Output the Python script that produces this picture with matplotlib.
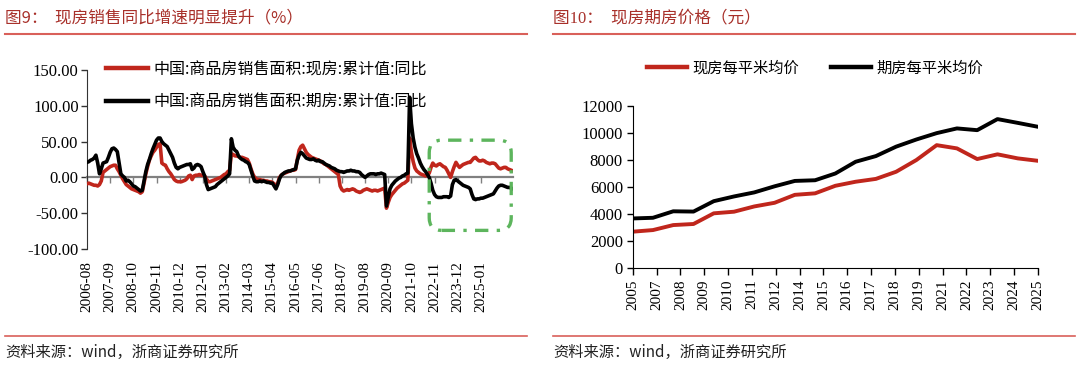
import matplotlib
matplotlib.use("Agg")
import matplotlib.pyplot as plt
import numpy as np
from matplotlib.lines import Line2D
from matplotlib.patches import FancyBboxPatch

# ---------------- data ----------------
# Left: monthly YoY (%) of commodity housing sales area (cumulative)
spot_yoy = [
    -9, -8, -9, -10, -11, -11, -12, -10, -5, 7, 9, 11,
    13, 15, 16, 17, 17, 12, 8, 3, -2, -6, -10, -12,
    -14, -16, -17, -18, -19, -20, -22, -20, -8, 5, 15, 24,
    30, 35, 38, 42, 46, 47, 20, 18, 17, 12, 8, 5,
    1, -3, -5, -6, -6, -6, -5, -4, -2, 2, 3, -3,
    2, 3, 3, 4, 3, 3, 2, -2, -6, -6, -5, -4,
    -3, -2, -1, 0, 2, 4, 5, 8, 10, 33, 32, 30,
    30, 29, 28, 28, 27, 26, 25, 20, 12, 5, 0, -2,
    -3, -3, -4, -4, -5, -5, -6, -6, -7, -9, -12, -8,
    0, 3, 5, 6, 7, 8, 9, 10, 10, 11, 25, 38,
    43, 45, 40, 35, 32, 30, 28, 27, 26, 25, 24, 23,
    21, 19, 18, 16, 14, 12, 10, 8, 6, 4, -12, -17,
    -19, -18, -17, -18, -17, -16, -17, -19, -20, -21, -20, -18,
    -17, -16, -17, -18, -19, -18, -18, -19, -18, -17, -16, -15,
    -43, -35, -28, -24, -21, -18, -15, -13, -11, -9, -8, -6,
    -4, 55, 35, 22, 13, 9, 7, 5, 4, 3, 2, 3,
    6, 14, 20, 17, 16, 18, 19, 17, 15, 14, 10, 5,
    0, 8, 15, 21, 17, 14, 16, 18, 19, 20, 21, 21,
    24, 27, 28, 25, 23, 23, 24, 23, 21, 20, 19, 20,
    20, 19, 16, 13, 12, 13, 14, 14, 12, 11, 10, 9,
]
presale_yoy = [
    21, 22, 24, 25, 27, 31, 20, 5, 12, 20, 21, 22,
    28, 35, 40, 41, 39, 36, 20, 5, 2, 0, -5, -4,
    -6, -9, -12, -13, -15, -17, -19, -18, -5, 8, 18, 25,
    33, 40, 46, 52, 55, 55, 50, 47, 45, 43, 38, 33,
    28, 20, 14, 12, 14, 15, 16, 17, 18, 18, 19, 11,
    13, 17, 18, 17, 15, 8, 2, -10, -17, -16, -15, -14,
    -13, -10, -8, -6, -4, -2, 0, 2, 5, 54, 42, 38,
    36, 30, 27, 25, 24, 22, 21, 18, 10, 2, -5, -6,
    -6, -5, -6, -5, -6, -7, -7, -8, -8, -12, -16, -10,
    -2, 3, 5, 7, 8, 9, 9, 10, 11, 12, 24, 31,
    35, 33, 30, 27, 26, 25, 25, 26, 24, 23, 24, 22,
    22, 20, 18, 17, 16, 14, 13, 12, 10, 9, 8, 8,
    7, 8, 9, 9, 10, 9, 9, 8, 8, 7, 4, 2,
    0, 2, 4, 5, 5, 5, 4, 5, 5, 6, 5, 4,
    -40, -28, -16, -11, -8, -5, -3, -1, 0, 2, 3, 5,
    6, 112, 75, 55, 42, 33, 27, 20, 15, 11, 8, 4,
    0, -8, -18, -24, -27, -28, -28, -28, -27, -27, -27, -28,
    -26, -10, -4, -3, -5, -7, -9, -11, -12, -13, -14, -16,
    -24, -30, -31, -30, -30, -29, -29, -28, -27, -26, -25, -24,
    -23, -19, -15, -12, -11, -11, -12, -13, -14, -14, -15, -16,
]
left_tick_labels = ['2006-08', '2007-09', '2008-10', '2009-11', '2010-12', '2012-01',
                    '2013-02', '2014-03', '2015-04', '2016-05', '2017-06', '2018-07',
                    '2019-08', '2020-09', '2021-10', '2022-11', '2023-12', '2025-01']
left_label_step = 13
left_series_names = ['中国:商品房销售面积:现房:累计值:同比', '中国:商品房销售面积:期房:累计值:同比']
highlight_range = (192, 238)      # months covered by the green box
highlight_values = (-74, 52)

# Right: average price per square metre (yuan)
years = list(range(2005, 2026))
spot_price = [2690, 2810, 3180, 3260, 4050, 4170, 4560, 4830, 5420, 5530, 6090,
              6390, 6600, 7130, 8000, 9100, 8860, 8070, 8420, 8120, 7940]
presale_price = [3670, 3720, 4200, 4180, 4950, 5300, 5600, 6050, 6450, 6500, 7000,
                 7870, 8290, 8990, 9520, 9990, 10340, 10210, 11030, 10750, 10460]
right_tick_labels = ['2005', '2007', '2008', '2009', '2010', '2011', '2012', '2014', '2015',
                     '2016', '2017', '2018', '2019', '2021', '2022', '2023', '2024', '2025']
right_series_names = ['现房每平米均价', '期房每平米均价']

# ---------------- style ----------------
CJK = ['Noto Sans CJK SC', 'DejaVu Sans']
SERIF = ['Liberation Serif', 'Noto Sans CJK SC']
RED = '#C0261C'
TITLE_RED = '#A8302A'
RULE_RED = '#D9605A'
GREEN = '#5DB55D'
plt.rcParams['font.family'] = CJK

W, H = 1080, 365
fig = plt.figure(figsize=(W / 100, H / 100), dpi=100)


def fx(px):
    return px / W


def fy(py):
    return 1 - py / H


# titles, rules and sources
fig.text(fx(5), fy(18), '图9：  现房销售同比增速明显提升（%）', color=TITLE_RED,
         fontsize=12, va='center', ha='left', family=CJK)
fig.text(fx(553), fy(18), '图10：  现房期房价格（元）', color=TITLE_RED,
         fontsize=12, va='center', ha='left', family=SERIF)
for x0, x1 in [(5, 527), (553, 1075)]:
    fig.add_artist(Line2D([fx(x0), fx(x1)], [fy(34), fy(34)], transform=fig.transFigure,
                          color=RULE_RED, lw=1.5))
    fig.add_artist(Line2D([fx(x0), fx(x1)], [fy(336), fy(336)], transform=fig.transFigure,
                          color=RULE_RED, lw=1.2))
for x0 in (5, 553):
    fig.text(fx(x0), fy(352), '资料来源：wind，浙商证券研究所', color='#222222',
             fontsize=11, va='center', ha='left', family=CJK)

# ---------------- left chart ----------------
ax1 = fig.add_axes([fx(87), fy(249), fx(513) - fx(87), fy(70) - fy(249)])
n = len(spot_yoy)
xm = np.arange(n)
ax1.plot(xm, spot_yoy, color=RED, lw=2.6, label=left_series_names[0], zorder=3)
ax1.plot(xm, presale_yoy, color='black', lw=2.6, label=left_series_names[1], zorder=4)
ax1.set_xlim(0, n - 1)
ax1.set_ylim(-100, 150)
ax1.set_yticks([-100, -50, 0, 50, 100, 150])
ax1.set_yticklabels([f'{v:.2f}' for v in [-100, -50, 0, 50, 100, 150]], family=SERIF, fontsize=12)
ax1.tick_params(axis='y', direction='out', length=4, width=1, pad=2, color='#333333')
for s in ['top', 'right']:
    ax1.spines[s].set_visible(False)
ax1.spines['left'].set_color('#333333')
ax1.spines['bottom'].set_position(('data', 0))
ax1.spines['bottom'].set_color('#808080')
ax1.spines['bottom'].set_linewidth(1.6)
ax1.spines['bottom'].set_zorder(2)
lpos = [i * left_label_step for i in range(len(left_tick_labels))]
ax1.set_xticks(lpos)
ax1.tick_params(axis='x', direction='out', length=4, width=1, color='#808080', labelbottom=False)
sec = ax1.secondary_xaxis(0.0)
sec.set_xticks(lpos, left_tick_labels)
sec.tick_params(length=0, pad=9, labelrotation=90)
for lab in sec.get_xticklabels():
    lab.set_family(SERIF)
    lab.set_fontsize(11)
sec.spines['bottom'].set_visible(False)

# green highlight box
r = 7
aspect = 2.5
box = FancyBboxPatch((highlight_range[0], highlight_values[0]),
                     highlight_range[1] - highlight_range[0],
                     highlight_values[1] - highlight_values[0],
                     boxstyle=f'round,pad=0,rounding_size={r}', mutation_aspect=aspect,
                     fill=False, edgecolor=GREEN, lw=2.4, linestyle=(0, (4, 2.5, 1, 2.5)),
                     zorder=5, clip_on=False)
ax1.add_patch(box)

leg1 = ax1.legend(loc='upper left', bbox_to_anchor=(0.045, 1.05), frameon=False,
                  fontsize=11.5, handlelength=2.6, handletextpad=0.35, labelspacing=0.95,
                  borderaxespad=0, borderpad=0)
for h in leg1.get_lines():
    h.set_linewidth(3.2)
leg1.set_zorder(1)

# ---------------- right chart ----------------
ax2 = fig.add_axes([fx(632.7), fy(268), fx(1038) - fx(632.7), fy(106) - fy(268)])
xi = np.arange(len(years))
ax2.plot(xi, spot_price, color=RED, lw=2.8, label=right_series_names[0])
ax2.plot(xi, presale_price, color='black', lw=2.8, label=right_series_names[1])
ax2.set_xlim(0, len(years) - 1)
ax2.set_ylim(0, 12000)
yt = list(range(0, 12001, 2000))
ax2.set_yticks(yt)
ax2.set_yticklabels([str(v) for v in yt], family=SERIF, fontsize=12)
rpos = np.linspace(0, len(years) - 1, len(right_tick_labels))
ax2.set_xticks(rpos)
ax2.set_xticklabels(right_tick_labels, rotation=90, family=SERIF, fontsize=11)
ax2.tick_params(axis='x', direction='out', length=5, width=1, pad=3)
ax2.tick_params(axis='y', direction='out', length=4, width=1, pad=3)
for s in ['top', 'right']:
    ax2.spines[s].set_visible(False)
leg2 = ax2.legend(loc='center', bbox_to_anchor=(0.45, 1.235), ncol=2, frameon=False,
                  fontsize=11, handlelength=2.6, handletextpad=0.35, columnspacing=2.1,
                  borderaxespad=0, borderpad=0)
for h in leg2.get_lines():
    h.set_linewidth(3.2)

fig.savefig('out.png', dpi=100)
